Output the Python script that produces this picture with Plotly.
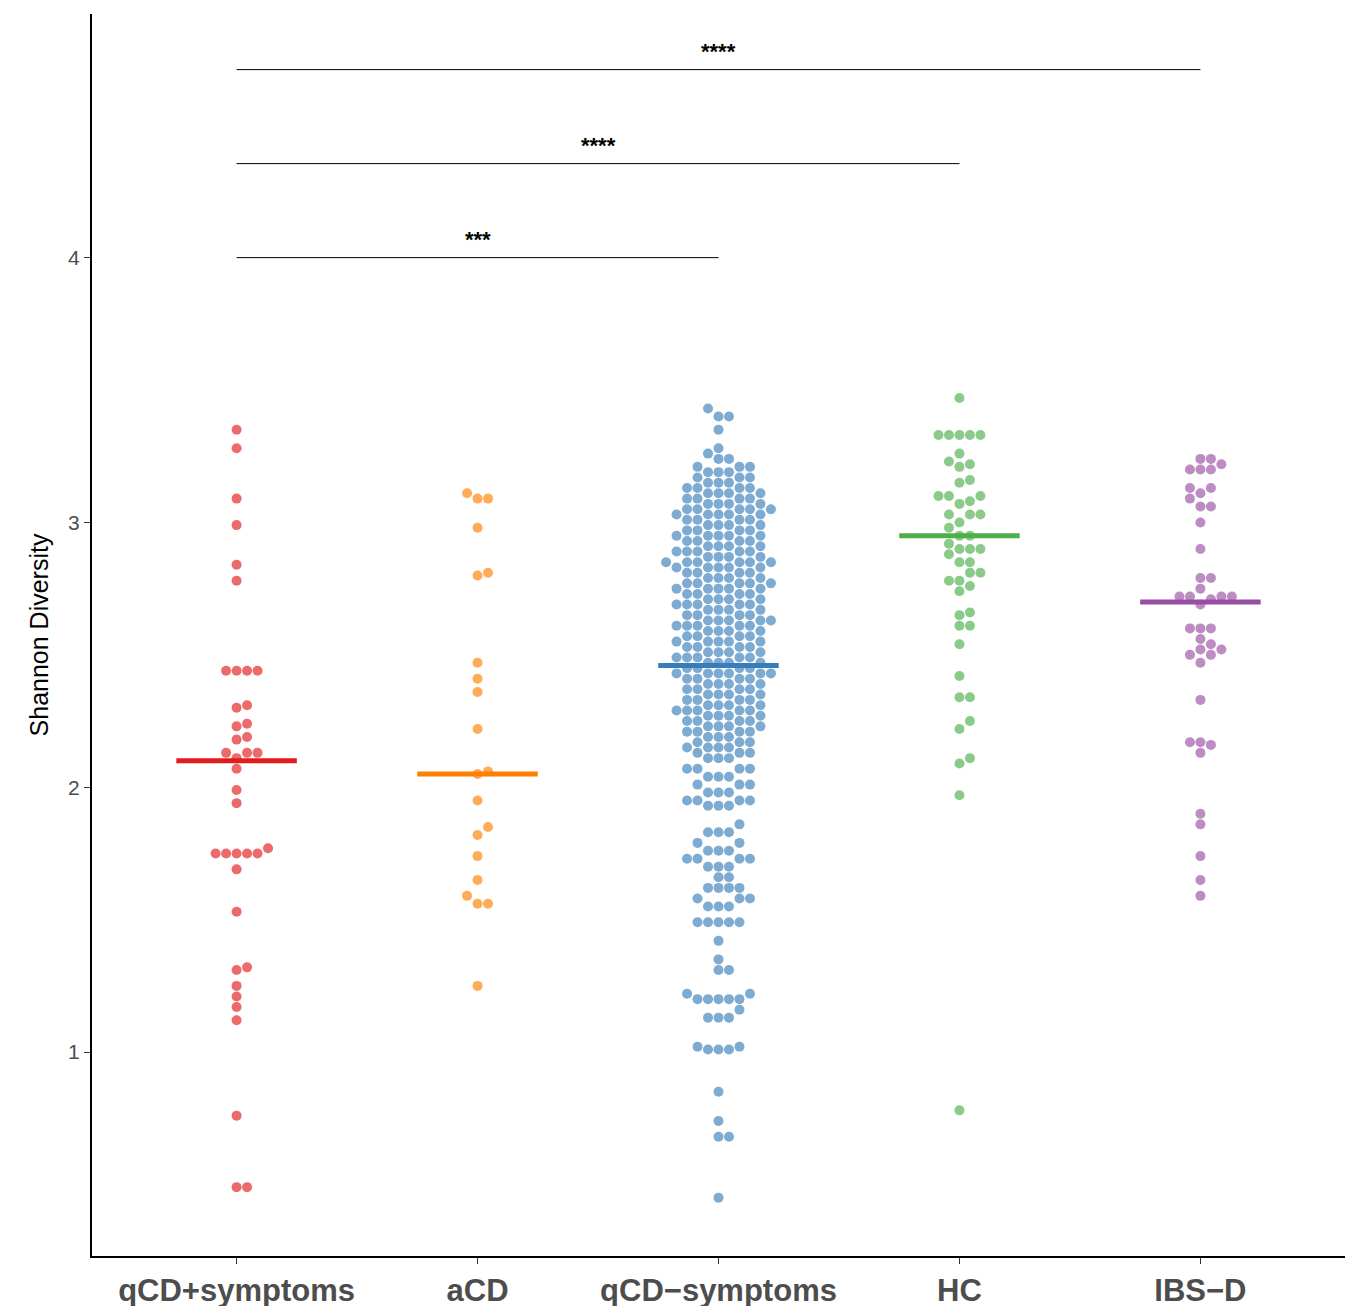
import numpy as np
import plotly.graph_objects as go

groups = ['qCD+symptoms', 'aCD', 'qCD−symptoms', 'HC', 'IBS−D']
colors = ['#E41A1C', '#FF7F00', '#377EB8', '#4DAF4A', '#984EA3']

qcd_sym = [3.35, 3.28, 3.09, 2.99, 2.84, 2.78, 2.44, 2.44, 2.44, 2.44, 2.31, 2.30, 2.24, 2.23,
           2.19, 2.18, 2.13, 2.13, 2.13, 2.11, 2.07, 1.99, 1.94, 1.77, 1.75, 1.75, 1.75, 1.75,
           1.75, 1.69, 1.53, 1.32, 1.31, 1.25, 1.21, 1.17, 1.12, 0.76, 0.49, 0.49]
acd = [3.11, 3.09, 3.09, 2.98, 2.81, 2.80, 2.47, 2.41, 2.36, 2.22, 2.06, 2.05, 1.95, 1.85,
       1.82, 1.74, 1.65, 1.59, 1.56, 1.56, 1.25]
# qCD-symptoms: levels and how many points sit at each level
blue_levels = [3.43, 3.40, 3.35, 3.28, 3.26, 3.24, 3.21, 3.19, 3.17, 3.15, 3.13, 3.11, 3.09,
               3.07, 3.05, 3.03, 3.01, 2.99, 2.97, 2.95, 2.93, 2.91, 2.89, 2.87, 2.85, 2.83,
               2.81, 2.79, 2.77, 2.75, 2.73, 2.71, 2.69, 2.67, 2.65, 2.63, 2.61, 2.59, 2.57,
               2.55, 2.53, 2.51, 2.49, 2.47, 2.45, 2.43, 2.41, 2.39, 2.37, 2.35, 2.33, 2.31,
               2.29, 2.27, 2.25, 2.23, 2.21, 2.19, 2.17, 2.15, 2.13, 2.11, 2.07, 2.04, 2.01,
               1.98, 1.95, 1.93, 1.86, 1.83, 1.79, 1.76, 1.73, 1.70, 1.66, 1.62, 1.58, 1.55,
               1.49, 1.42, 1.35, 1.31, 1.22, 1.20, 1.16, 1.13, 1.02, 1.01, 0.85, 0.74, 0.68,
               0.45]
blue_counts = [1, 2, 1, 1, 1, 2, 3, 3, 3, 3, 4, 4, 4, 4, 5, 5, 4, 4, 4, 5, 4, 4, 5, 4, 6, 5,
               4, 4, 5, 5, 4, 4, 5, 4, 4, 5, 5, 4, 4, 5, 4, 4, 5, 4, 4, 6, 4, 4, 4, 4, 4, 4,
               5, 4, 4, 4, 4, 3, 3, 4, 3, 3, 4, 3, 3, 3, 4, 3, 1, 3, 2, 3, 4, 3, 2, 4, 3, 3,
               5, 1, 1, 2, 2, 5, 1, 3, 2, 3, 1, 1, 2, 1]
qcd_nosym = list(np.repeat(blue_levels, blue_counts))
hc = [3.47, 3.33, 3.33, 3.33, 3.33, 3.33, 3.26, 3.23, 3.22, 3.21, 3.16, 3.15, 3.10, 3.10, 3.10,
      3.08, 3.07, 3.03, 3.03, 3.03, 3.00, 2.98, 2.95, 2.95, 2.92, 2.90, 2.90, 2.90, 2.88, 2.85,
      2.85, 2.81, 2.81, 2.78, 2.78, 2.76, 2.74, 2.66, 2.65, 2.61, 2.61, 2.54, 2.42, 2.34, 2.34,
      2.25, 2.22, 2.11, 2.09, 1.97, 0.78]
ibsd = [3.24, 3.24, 3.22, 3.20, 3.20, 3.20, 3.13, 3.13, 3.11, 3.09, 3.06, 3.06, 3.00, 2.90,
        2.79, 2.79, 2.75, 2.72, 2.72, 2.72, 2.72, 2.71, 2.69, 2.60, 2.60, 2.60, 2.56, 2.54,
        2.52, 2.52, 2.50, 2.50, 2.47, 2.33, 2.17, 2.17, 2.16, 2.13, 1.90, 1.86, 1.74, 1.65, 1.59]
medians = [2.10, 2.05, 2.46, 2.95, 2.70]
all_data = [qcd_sym, acd, qcd_nosym, hc, ibsd]

comparisons = [(0, 2, 4.0, '***'), (0, 3, 4.355, '****'), (0, 4, 4.71, '****')]

# simple beeswarm: pixel scales ~ 241 px per category, 264.7 px per unit
px_x, px_y, diam = 241.3, 264.7, 10.5


def swarm(vals):
    placed = []
    offs = []
    for v in sorted(vals):
        k = 0
        while True:
            cands = [0.0] if k == 0 else [k * diam / 2, -k * diam / 2]
            ok_c = None
            for c in cands:
                if all((c - o) ** 2 + ((v - pv) * px_y) ** 2 >= diam ** 2 for o, pv in placed):
                    ok_c = c
                    break
            if ok_c is not None:
                placed.append((ok_c, v))
                offs.append(ok_c / px_x)
                break
            k += 1
    return sorted(vals), offs


fig = go.Figure()
for i, (vals, col) in enumerate(zip(all_data, colors)):
    ys, offs = swarm(vals)
    fig.add_trace(go.Scatter(x=[i + o for o in offs], y=ys, mode='markers',
                             marker=dict(color=col, size=10, opacity=0.65, line=dict(width=0)),
                             showlegend=False, hoverinfo='y'))
    fig.add_shape(type='line', x0=i - 0.25, x1=i + 0.25, y0=medians[i], y1=medians[i],
                  line=dict(color=col, width=5))

for a, b, y, lab in comparisons:
    fig.add_shape(type='line', x0=a, x1=b, y0=y, y1=y, line=dict(color='black', width=1))
    fig.add_annotation(x=(a + b) / 2, y=y, text='<b>' + lab + '</b>', showarrow=False,
                       yshift=18, font=dict(size=22, color='black'))

fig.update_layout(
    width=1362, height=1306, plot_bgcolor='white', paper_bgcolor='white',
    margin=dict(l=84, r=25, t=6, b=58),
    font=dict(family='Liberation Sans, Arial'),
    xaxis=dict(tickmode='array', tickvals=list(range(5)),
               ticktext=['<b>' + g + '</b>' for g in groups], range=[-0.6, 4.6],
               showline=True, linecolor='black', linewidth=2, ticks='outside', ticklen=6,
               tickcolor='#333333', tickfont=dict(size=31, color='#4d4d4d'),
               showgrid=False, zeroline=False, automargin=False),
    yaxis=dict(range=[0.23, 4.92], tickvals=[1, 2, 3, 4], showline=True, linecolor='black',
               linewidth=2, ticks='outside', ticklen=6, tickcolor='#333333',
               tickfont=dict(size=21, color='#4d4d4d'),
               title=dict(text='Shannon Diversity', font=dict(size=25, color='black'), standoff=12),
               showgrid=False, zeroline=False, automargin=False),
)
fig.write_html('out.html')
